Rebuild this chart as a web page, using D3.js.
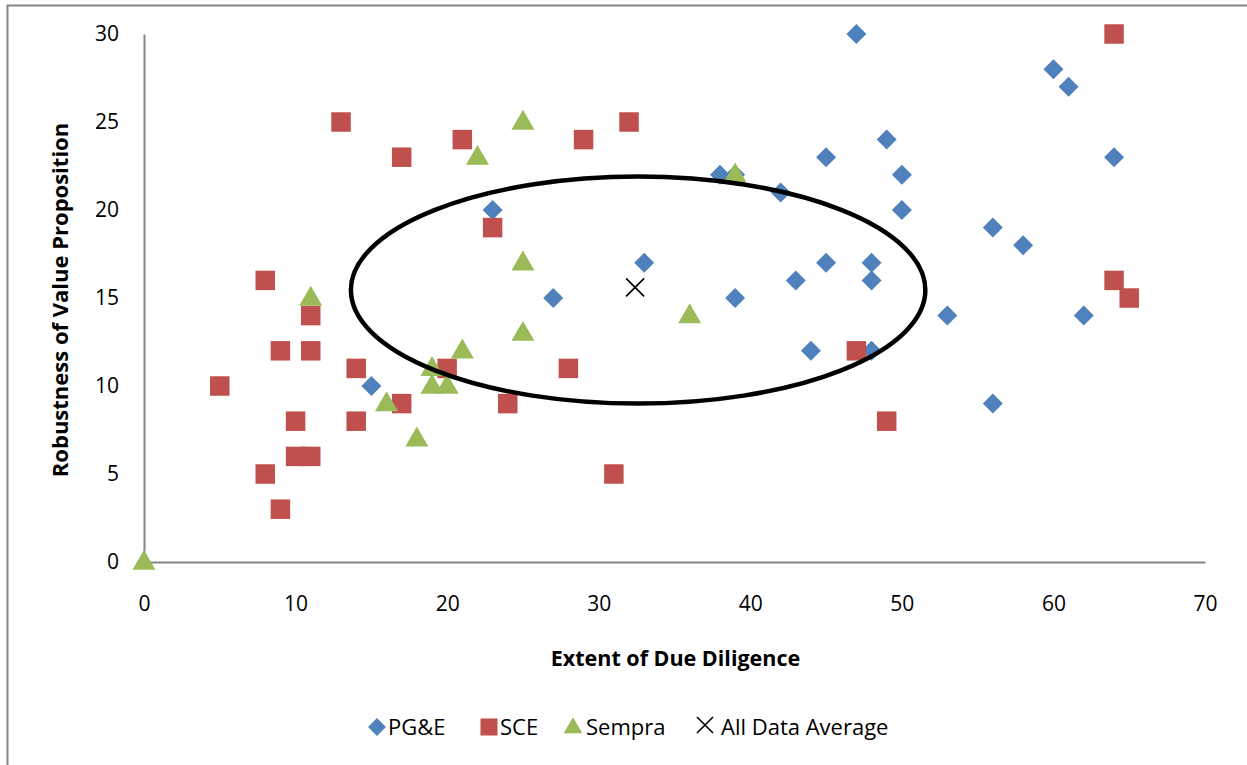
<!DOCTYPE html>
<html>
<head>
<meta charset="utf-8">
<script src="https://cdn.jsdelivr.net/npm/d3@7"></script>
<style>
  body { margin: 0; background: #fff; }
  svg text { font-family: "Open Sans", Lato, sans-serif; fill: #000; }
</style>
</head>
<body>
<svg id="chart" width="1247" height="765"></svg>
<script>
// PG&E points
var pge_x = [15, 23, 27, 33, 38, 39, 39, 42, 43, 44, 45, 45, 47, 48, 48, 48, 49, 50, 50, 53, 56, 56, 58, 60, 61, 62, 64];
var pge_y = [10, 20, 15, 17, 22, 22, 15, 21, 16, 12, 23, 17, 30, 17, 16, 12, 24, 22, 20, 14, 19, 9, 18, 28, 27, 14, 23];

// SCE points
var sce_x = [5, 8, 8, 9, 9, 10, 10, 11, 11, 11, 13, 14, 14, 17, 17, 20, 21, 23, 24, 28, 29, 31, 32, 47, 49, 64, 64, 65];
var sce_y = [10, 16, 5, 12, 3, 8, 6, 14, 12, 6, 25, 11, 8, 23, 9, 11, 24, 19, 9, 11, 24, 5, 25, 12, 8, 30, 16, 15];

// Sempra points
var sempra_x = [0, 11, 16, 18, 19, 19, 20, 21, 22, 25, 25, 25, 36, 39];
var sempra_y = [0, 15, 9, 7, 11, 10, 10, 12, 23, 25, 17, 13, 14, 22];

// all data average
var avg_x = [32.4];
var avg_y = [15.6];

// hand drawn ellipse: centre and radii in data units
var ellipse_c = [32.6, 15.45];
var ellipse_r = [18.95, 6.45];

var x_ticks = [0, 10, 20, 30, 40, 50, 60, 70];
var y_ticks = [0, 5, 10, 15, 20, 25, 30];

var series_names = ["PG&E", "SCE", "Sempra", "All Data Average"];
var colors = {"PG&E": "#4F81BD", "SCE": "#C0504D", "Sempra": "#9BBB59"};

var svg = d3.select("#chart");

// outer chart border (runs off the right and bottom edge)
svg.append("rect")
  .attr("x", 7.5).attr("y", 5.5)
  .attr("width", 1400).attr("height", 900)
  .attr("fill", "none")
  .attr("stroke", "#868686")
  .attr("stroke-width", 2);

var x = d3.scaleLinear().domain([0, 70]).range([144, 1205]);
var y = d3.scaleLinear().domain([0, 30]).range([562, 34]);

// axes, no tick marks
var x_axis = d3.axisBottom(x).tickValues(x_ticks).tickSize(0).tickPadding(34);
var y_axis = d3.axisLeft(y).tickValues(y_ticks).tickSize(0).tickPadding(25);

var gx = svg.append("g").attr("transform", "translate(0," + y(0) + ")").call(x_axis);
var gy = svg.append("g").attr("transform", "translate(" + x(0) + ",0)").call(y_axis);

[gx, gy].forEach(function(g) {
  g.select(".domain").attr("stroke", "#868686").attr("stroke-width", 2);
  g.selectAll("text").style("font-size", "21px").attr("fill", "#000");
});

// axis titles
svg.append("text")
  .attr("x", (x(0) + x(70)) / 2 + 1).attr("y", 666)
  .attr("text-anchor", "middle")
  .style("font-size", "21.5px").style("font-weight", "bold")
  .text("Extent of Due Diligence");

svg.append("text")
  .attr("transform", "translate(68," + ((y(0) + y(30)) / 2 + 2) + ") rotate(-90)")
  .attr("text-anchor", "middle")
  .style("font-size", "22px").style("font-weight", "bold")
  .text("Robustness of Value Proposition");

function zip(xs, ys) {
  return xs.map(function(v, i) { return [v, ys[i]]; });
}

var sym_diamond = d3.symbol().type(d3.symbolSquare).size(200);
var sym_square = d3.symbol().type(d3.symbolSquare).size(380);
var sym_triangle = d3.symbol().type(d3.symbolTriangle).size(230);

var plot = svg.append("g");

plot.selectAll("path.pge")
  .data(zip(pge_x, pge_y)).enter().append("path")
  .attr("class", "pge")
  .attr("d", sym_diamond)
  .attr("fill", colors["PG&E"])
  .attr("transform", function(d) { return "translate(" + x(d[0]) + "," + y(d[1]) + ") rotate(45)"; });

plot.selectAll("path.sce")
  .data(zip(sce_x, sce_y)).enter().append("path")
  .attr("class", "sce")
  .attr("d", sym_square)
  .attr("fill", colors["SCE"])
  .attr("transform", function(d) { return "translate(" + x(d[0]) + "," + y(d[1]) + ")"; });

plot.selectAll("path.sempra")
  .data(zip(sempra_x, sempra_y)).enter().append("path")
  .attr("class", "sempra")
  .attr("d", sym_triangle)
  .attr("fill", colors["Sempra"])
  .attr("transform", function(d) { return "translate(" + x(d[0]) + "," + (y(d[1]) + 1) + ")"; });

function draw_x(g, cx, cy, r) {
  g.append("path")
    .attr("d", "M" + (cx - r) + "," + (cy - r) + "L" + (cx + r) + "," + (cy + r) +
               "M" + (cx - r) + "," + (cy + r) + "L" + (cx + r) + "," + (cy - r))
    .attr("stroke", "#000").attr("stroke-width", 1.6).attr("fill", "none");
}

zip(avg_x, avg_y).forEach(function(d) {
  draw_x(plot, x(d[0]), y(d[1]), 9);
});

// ellipse annotation
plot.append("ellipse")
  .attr("cx", x(ellipse_c[0])).attr("cy", y(ellipse_c[1]))
  .attr("rx", x(ellipse_c[0] + ellipse_r[0]) - x(ellipse_c[0]))
  .attr("ry", y(ellipse_c[1] - ellipse_r[1]) - y(ellipse_c[1]))
  .attr("fill", "none")
  .attr("stroke", "#000")
  .attr("stroke-width", 4.5);

// legend
var legend_x = [377, 489, 573, 705];
var legend_text_x = [388, 500, 586, 721];
var legend_y = 727;
var legend = svg.append("g");

series_names.forEach(function(name, i) {
  var lx = legend_x[i];
  var item = legend.append("g");
  if (name == "PG&E") {
    item.append("path").attr("d", d3.symbol().type(d3.symbolSquare).size(160))
      .attr("fill", colors[name])
      .attr("transform", "translate(" + lx + "," + legend_y + ") rotate(45)");
  } else if (name == "SCE") {
    item.append("path").attr("d", d3.symbol().type(d3.symbolSquare).size(290))
      .attr("fill", colors[name])
      .attr("transform", "translate(" + lx + "," + legend_y + ")");
  } else if (name == "Sempra") {
    item.append("path").attr("d", d3.symbol().type(d3.symbolTriangle).size(150))
      .attr("fill", colors[name])
      .attr("transform", "translate(" + lx + "," + (legend_y + 1) + ")");
  } else {
    draw_x(item, lx, legend_y - 2, 8);
  }
  item.append("text")
    .attr("x", legend_text_x[i])
    .attr("y", legend_y + 8)
    .style("font-size", "22px")
    .text(name);
});
</script>
</body>
</html>
